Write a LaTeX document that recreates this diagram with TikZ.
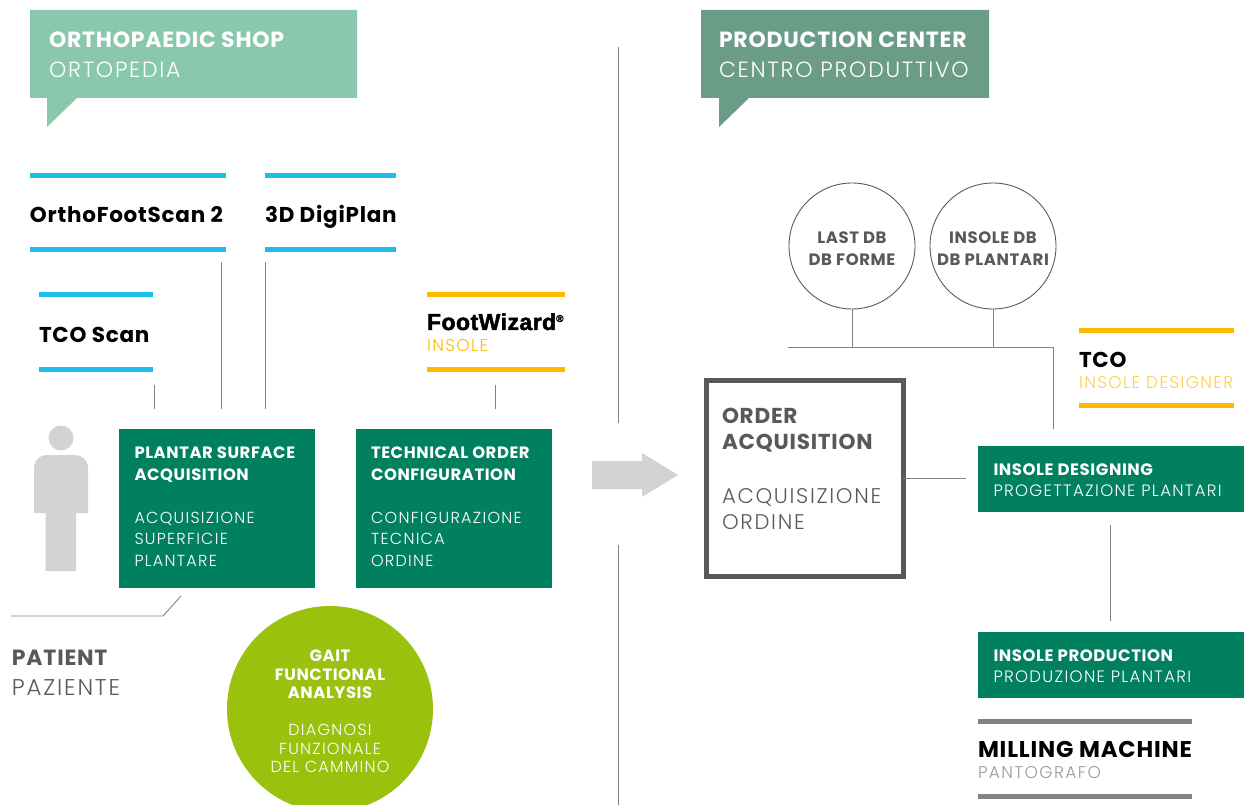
\documentclass[tikz,border=0pt]{standalone}
\usepackage{fontspec}
\setmainfont{Poppins}[LetterSpace=3.5]
\newfontfamily\lightfont{Poppins Light}[LetterSpace=8]
\newfontfamily\blackfont{Liberation Sans Bold}[FakeBold=2,LetterSpace=2]
\usetikzlibrary{positioning}
\definecolor{shopgreen}{HTML}{8AC8AE}
\definecolor{centergreen}{HTML}{6B9C88}
\definecolor{boxgreen}{HTML}{00805F}
\definecolor{limegreen}{HTML}{99C10D}
\definecolor{scanblue}{HTML}{1CBCEB}
\definecolor{wizyellow}{HTML}{FDBB00}
\definecolor{darkgrey}{HTML}{58595B}
\definecolor{midgrey}{HTML}{808285}
\definecolor{palegrey}{HTML}{D1D3D4}
\newcommand{\hd}[1]{{\bfseries #1}}
\newcommand{\hdb}[1]{{\fontsize{16.4}{21.5}\selectfont\bfseries #1}}
\newcommand{\lt}[1]{{\lightfont #1}}
\tikzset{
  every node/.style={inner sep=0pt,outer sep=0pt},
  wire/.style={draw=midgrey,line width=0.9pt},
  bluebar/.style={draw=scanblue,line width=5pt},
  yellowbar/.style={draw=wizyellow,line width=5pt},
  greybar/.style={draw=midgrey,line width=5pt},
  prodname/.style={anchor=base west,font=\fontsize{21.5}{24}\selectfont\bfseries,text=black},
  prodtag/.style={anchor=base west,font=\fontsize{17}{20}\selectfont\lightfont},
  headtext/.style={anchor=north west,align=left,text=white,font=\fontsize{22}{30}\selectfont},
  greenbox/.style={fill=boxgreen,anchor=north west},
  boxtext/.style={anchor=north west,align=left,text=white,font=\fontsize{16}{21.5}\selectfont},
  dbcircle/.style={circle,draw=darkgrey,line width=0.9pt,minimum size=126pt},
  dbtext/.style={align=center,text=darkgrey,font=\fontsize{16.5}{22}\selectfont\bfseries},
}
\begin{document}
\begin{tikzpicture}[x=1pt,y=-1pt]
\useasboundingbox (0,0) rectangle (1254,805);
% headers
\fill [shopgreen] (30,10) -- (357,10) -- (357,98) -- (77,98) -- (47,127) -- (47,98) -- (30,98) -- cycle;
\fill [centergreen] (701,10) -- (989,10) -- (989,98) -- (749,98) -- (719,127) -- (719,98) -- (701,98) -- cycle;
\node [headtext] (shopHead) at (49,32) {\hd{ORTHOPAEDIC SHOP}\\\lt{ORTOPEDIA}};
\node [headtext] (centerHead) at (719,32) {\hd{PRODUCTION CENTER}\\\lt{CENTRO PRODUTTIVO}};
% products
\draw [bluebar] (30,176) -- (226,176);
\draw [bluebar] (30,250) -- (226,250);
\draw [bluebar] (265,176) -- (396,176);
\draw [bluebar] (265,250) -- (396,250);
\draw [bluebar] (39,295) -- (153,295);
\draw [bluebar] (39,369) -- (153,369);
\draw [yellowbar] (427,295) -- (565,295);
\draw [yellowbar] (427,369) -- (565,369);
\draw [yellowbar] (1079,331) -- (1234,331);
\draw [yellowbar] (1079,405) -- (1234,405);
\draw [greybar] (978,721) -- (1192,721);
\draw [greybar] (978,796) -- (1192,796);
\node [prodname] (orthoScan) at (30,223) {OrthoFootScan 2};
\node [prodname] (digiPlan) at (265,223) {3D DigiPlan};
\node [prodname] (tcoScan) at (39,342) {TCO Scan};
\node [anchor=base west,font=\fontsize{23}{24}\selectfont\blackfont] (footWiz) at (427,330) {FootWizard\raisebox{8pt}{\fontsize{10}{10}\selectfont\textregistered}};
\node [prodtag,text=wizyellow] (insoleTag) at (427,352) {INSOLE};
\node [prodname] (tcoName) at (1079,367) {TCO};
\node [prodtag,text=wizyellow!70] (tcoTag) at (1079,388) {INSOLE DESIGNER};
\node [prodname,font=\fontsize{22.8}{24}\selectfont\bfseries] (millName) at (978,757) {MILLING MACHINE};
\node [prodtag,text=midgrey!80] (millTag) at (978,778) {PANTOGRAFO};
% shop side
\node [greenbox,minimum width=196pt,minimum height=159pt] (plantar) at (119,429) {};
\node [boxtext] (plantarText) at ([shift={(15.5,18)}]plantar.north west) {\hdb{PLANTAR SURFACE}\\\hdb{ACQUISITION}\\[21.5pt]\lt{ACQUISIZIONE}\\\lt{SUPERFICIE}\\\lt{PLANTARE}};
\node [greenbox,minimum width=196pt,minimum height=159pt] (technical) at (356,429) {};
\node [boxtext] (technicalText) at ([shift={(15,18)}]technical.north west) {\hdb{TECHNICAL ORDER}\\\hdb{CONFIGURATION}\\[21.5pt]\lt{CONFIGURAZIONE}\\\lt{TECNICA}\\\lt{ORDINE}};
\node [circle,fill=limegreen,minimum size=206pt] (gait) at (330,709) {};
\node [text=white,align=center,font=\fontsize{16}{18.5}\selectfont] (gaitText) at (330,711.5) {\hdb{GAIT}\\\hdb{FUNCTIONAL}\\\hdb{ANALYSIS}\\[18.5pt]\lt{DIAGNOSI}\\\lt{FUNZIONALE}\\\lt{DEL CAMMINO}};
% person
\fill [palegrey] (61,438) circle (12.5);
\fill [palegrey] (34,513) -- (34,468) .. controls (34,460) and (40,455) .. (47,455) -- (75,455) .. controls (82,455) and (88,460) .. (88,468) -- (88,513) -- (76,513) -- (76,571) -- (45.5,571) -- (45.5,513) -- cycle;
\node [anchor=north west,align=left,font=\fontsize{22}{30}\selectfont,text=darkgrey] (patient) at (12,650) {\hd{PATIENT}\\{\fontsize{22.8}{30}\selectfont\lt{PAZIENTE}}};
\coordinate (patA) at (11,616);
\coordinate (patB) at (163,616);
\coordinate (patC) at (181,596);
\draw [wire] (patA) -- (patB) -- (patC);
% wires to the scanners
\coordinate (tcoA) at (154,385);
\coordinate (tcoB) at (154,409);
\coordinate (orthoA) at (221,262);
\coordinate (orthoB) at (221,409);
\coordinate (digiA) at (265,262);
\coordinate (digiB) at (265,409);
\coordinate (wizA) at (495,385);
\coordinate (wizB) at (495,409);
\draw [wire] (tcoA) -- (tcoB);
\draw [wire] (orthoA) -- (orthoB);
\draw [wire] (digiA) -- (digiB);
\draw [wire] (wizA) -- (wizB);
% divider and arrow
\coordinate (divA) at (618,47);
\coordinate (divB) at (618,423);
\coordinate (divC) at (618,545);
\coordinate (divD) at (618,805);
\draw [wire] (divA) -- (divB);
\draw [wire] (divC) -- (divD);
\fill [palegrey] (592,461) -- (642,461) -- (642,453) -- (678,475) -- (642,497) -- (642,489) -- (592,489) -- cycle;
% production side
\node [dbcircle] (lastDb) at (852,246) {};
\node [dbtext] (lastText) at (852,249) {LAST DB\\DB FORME};
\node [dbcircle] (insoleDb) at (993,246) {};
\node [dbtext] (insoleText) at (993,249) {INSOLE DB\\DB PLANTARI};
\node [draw=darkgrey,line width=5pt,anchor=north west,minimum width=197pt,minimum height=196pt] (order) at (706,380) {};
\node [anchor=north west,align=left,text=darkgrey,font=\fontsize{21.6}{26}\selectfont] (orderText) at (722,408) {\hd{ORDER}\\\hd{ACQUISITION}\\[28pt]{\fontsize{21.2}{26}\selectfont\lt{ACQUISIZIONE}}\\{\fontsize{21.2}{26}\selectfont\lt{ORDINE}}};
\node [greenbox,minimum width=266pt,minimum height=66pt] (designing) at (978,446) {};
\node [boxtext,font=\fontsize{16.5}{21}\selectfont] (designingText) at ([shift={(15.5,18)}]designing.north west) {\hd{INSOLE DESIGNING}\\\lt{PROGETTAZIONE PLANTARI}};
\node [greenbox,minimum width=266pt,minimum height=66pt] (production) at (978,632) {};
\node [boxtext,font=\fontsize{16.5}{21}\selectfont] (productionText) at ([shift={(15.5,18)}]production.north west) {\hd{INSOLE PRODUCTION}\\\lt{PRODUZIONE PLANTARI}};
\coordinate (busL) at (788,347);
\coordinate (busR) at (1053,347);
\coordinate (busEnd) at (1053,429);
\coordinate (lastFoot) at (852,347);
\coordinate (insoleFoot) at (993,347);
\coordinate (orderEnd) at (966,478);
\coordinate (dsgA) at (1110,525);
\coordinate (dsgB) at (1110,621);
\draw [wire] (busL) -- (busR) -- (busEnd);
\draw [wire] (lastDb.south) -- (lastFoot);
\draw [wire] (insoleDb.south) -- (insoleFoot);
\draw [wire] (order.east |- orderEnd) -- (orderEnd);
\draw [wire] (dsgA) -- (dsgB);
\end{tikzpicture}
\end{document}
